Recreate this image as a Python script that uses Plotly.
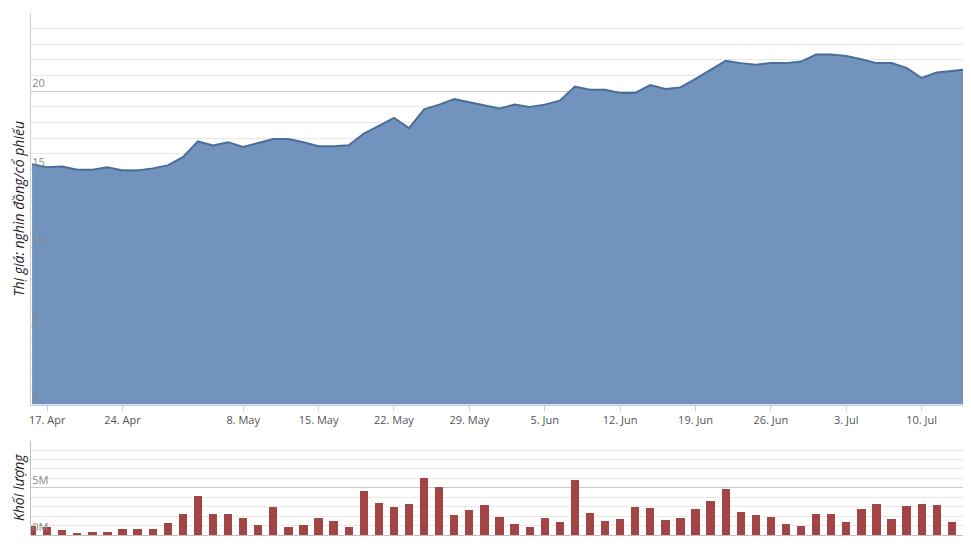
import plotly.graph_objects as go
from plotly.subplots import make_subplots

# giá đóng cửa (nghìn đồng/cổ phiếu)
price = [15.34, 15.15, 15.2, 15.0, 15.0, 15.15, 14.95, 14.95, 15.08, 15.27,
         15.8, 16.8, 16.55, 16.75, 16.45, 16.7, 16.95, 16.95, 16.75, 16.5,
         16.5, 16.55, 17.3, 17.8, 18.3, 17.65, 18.85, 19.15, 19.5, 19.3,
         19.1, 18.9, 19.15, 19.0, 19.15, 19.4, 20.3, 20.1, 20.1, 19.9,
         19.9, 20.4, 20.15, 20.25, 20.8, 21.35, 21.95, 21.8, 21.7, 21.8,
         21.8, 21.9, 22.35, 22.35, 22.25, 22.05, 21.8, 21.8, 21.5, 20.85,
         21.2, 21.3, 21.4]

# khối lượng (triệu cổ phiếu)
volume = [1.0, 0.93, 0.53, 0.23, 0.33, 0.33, 0.63, 0.73, 0.73, 1.33,
          2.23, 4.13, 2.23, 2.23, 1.83, 1.13, 3.03, 0.93, 1.13, 1.83,
          1.53, 0.93, 4.73, 3.43, 3.03, 3.33, 6.03, 5.13, 2.13, 2.73,
          3.23, 2.0, 1.2, 0.93, 1.83, 1.43, 5.83, 2.33, 1.53, 1.73,
          3.03, 2.93, 1.63, 1.83, 2.83, 3.63, 4.93, 2.43, 2.13, 1.93,
          1.2, 1.03, 2.23, 2.23, 1.43, 2.83, 3.33, 1.73, 3.13, 3.33,
          3.23, 1.43, 0.83]

tick_pos = [1, 6, 14, 19, 24, 29, 34, 39, 44, 49, 54, 59]
tick_text = ['17. Apr', '24. Apr', '8. May', '15. May', '22. May', '29. May',
             '5. Jun', '12. Jun', '19. Jun', '26. Jun', '3. Jul', '10. Jul']

idx = list(range(len(price)))
vol_units = [v * 1e6 for v in volume]

fig = make_subplots(rows=2, cols=1, vertical_spacing=0.069,
                    row_heights=[0.7949, 0.1916])

fig.add_trace(go.Scatter(x=idx, y=price, mode='lines', fill='tozeroy',
                         fillcolor='#7193bd',
                         line=dict(color='#4a6e9a', width=2)),
              row=1, col=1)

fig.add_trace(go.Bar(x=idx, y=vol_units, width=0.55,
                     marker=dict(color='#a34545', line=dict(width=0))),
              row=2, col=1)

xr = [-0.07, 62.27]
fig.update_xaxes(range=xr, showgrid=False, zeroline=False)
fig.update_xaxes(tickvals=tick_pos, ticktext=tick_text, ticks='outside',
                 ticklen=5, tickcolor='#c0d0e0', showline=True,
                 linecolor='#c0d0e0', tickfont=dict(size=11, color='#555'),
                 row=1, col=1)
fig.update_xaxes(showticklabels=False, showline=True, linecolor='#c0c0c0',
                 row=2, col=1)

grid_kw = dict(showgrid=True, gridcolor='#c8c8c8', zeroline=False,
               ticks='', ticklabelposition='inside top',
               tickfont=dict(size=11, color='#888'),
               showline=True, linecolor='#c0d0e0', mirror=False,
               minor=dict(dtick=1, showgrid=True, gridcolor='#e8e8e8'))

fig.update_yaxes(range=[0, 25], dtick=5, **grid_kw,
                 title=dict(text='<i>Thị giá: nghìn đồng/cổ phiếu</i>',
                            font=dict(size=14, color='#222'), standoff=4),
                 row=1, col=1)
fig.update_yaxes(range=[0, 1e7], tickvals=[0, 5e6], ticktext=['0M', '5M'],
                 showgrid=True, gridcolor='#c8c8c8', zeroline=False,
                 ticklabelposition='inside top',
                 tickfont=dict(size=11, color='#888'),
                 showline=True, linecolor='#c0c0c0',
                 minor=dict(dtick=1e6, showgrid=True, gridcolor='#e8e8e8'),
                 title=dict(text='<i>Khối lượng</i>',
                            font=dict(size=14, color='#222'), standoff=4),
                 row=2, col=1)

fig.update_layout(
    width=971, height=557,
    margin=dict(l=23, r=8, t=5, b=30),
    plot_bgcolor='white', paper_bgcolor='white',
    showlegend=False, bargap=0,
    font=dict(family='Open Sans, DejaVu Sans, sans-serif'),
)

fig.write_html('out.html')
